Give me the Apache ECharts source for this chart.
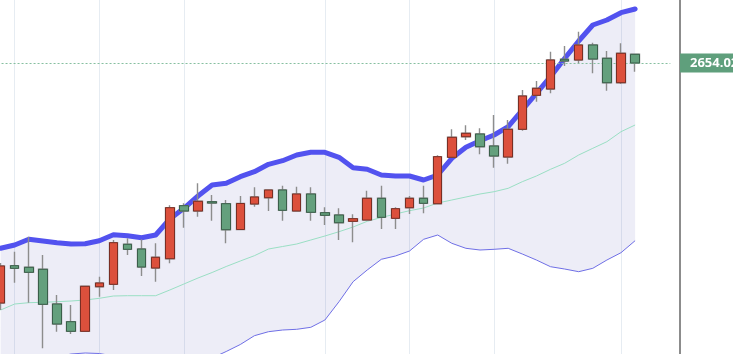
<!DOCTYPE html>
<html>
<head>
<meta charset="utf-8">
<script src="https://cdn.jsdelivr.net/npm/echarts@6/dist/echarts.min.js"></script>
<style>html,body{margin:0;padding:0;background:#fff;}#c{width:733px;height:354px;}</style>
</head>
<body>
<div id="c"></div>
<script>
// ---- data ----
const categories = [];
for (let i = 1; i <= 48; i++) categories.push(String(i));

const openV  = [2414.0,2451.3,2449.7,2447.7,2413.0,2395.3,2385.7,2430.3,2432.7,2472.7,2468.0,2449.0,2458.3,2511.3,2506.0,2515.3,2513.3,2487.5,2513.0,2519.3,2527.0,2506.0,2523.0,2504.3,2502.0,2495.7,2497.0,2518.7,2498.7,2509.3,2518.7,2513.3,2559.7,2580.3,2583.0,2571.0,2560.0,2587.7,2621.7,2628.0,2657.7,2657.0,2672.0,2658.7,2634.3,2662.7];
const closeV = [2451.0,2448.7,2444.7,2412.7,2393.0,2385.7,2430.7,2434.0,2474.3,2467.7,2450.0,2459.7,2509.3,2506.0,2515.7,2514.0,2487.3,2513.5,2520.0,2527.0,2506.7,2523.0,2504.7,2501.7,2494.3,2498.3,2518.7,2499.7,2508.3,2518.7,2513.7,2560.3,2579.7,2583.7,2570.3,2561.0,2587.7,2621.0,2628.7,2657.0,2656.0,2672.0,2658.0,2634.3,2663.7,2654.02];
const lowV   = [2407.0,2434.3,2414.3,2368.7,2385.3,2383.0,2385.5,2420.3,2427.0,2462.0,2441.0,2435.3,2453.7,2489.3,2500.3,2496.3,2473.7,2487.0,2510.3,2506.0,2496.3,2506.0,2496.3,2492.0,2477.0,2474.7,2496.5,2488.0,2488.0,2503.0,2503.7,2513.0,2559.5,2577.0,2562.7,2549.3,2553.3,2586.3,2615.3,2623.7,2651.0,2653.7,2643.7,2626.3,2633.0,2645.3];
const highV  = [2454.0,2465.3,2480.3,2462.0,2422.0,2412.0,2431.0,2440.3,2477.0,2478.7,2477.7,2473.7,2511.7,2513.7,2533.7,2522.0,2517.0,2521.0,2529.7,2527.7,2531.3,2530.3,2529.7,2509.7,2508.7,2502.7,2526.3,2531.3,2509.7,2521.0,2531.3,2561.7,2587.7,2591.7,2588.7,2602.0,2597.0,2627.0,2636.0,2665.3,2671.0,2685.3,2674.3,2666.0,2673.7,2662.7];

const upperBand  = [2468.7,2472.0,2477.7,2476.0,2474.3,2473.0,2473.3,2476.3,2482.3,2481.3,2479.3,2482.0,2498.0,2508.7,2521.0,2532.0,2533.7,2540.3,2545.3,2552.7,2556.3,2562.0,2564.7,2564.7,2559.7,2549.3,2547.7,2542.0,2541.0,2541.0,2537.0,2542.0,2558.7,2569.7,2576.3,2582.0,2590.3,2607.0,2623.7,2640.3,2658.5,2676.0,2692.0,2697.0,2704.3,2708.0];
const middleBand = [2407.0,2413.0,2414.3,2414.7,2415.3,2416.0,2417.0,2418.7,2421.0,2421.3,2421.3,2421.3,2427.0,2433.0,2439.0,2444.5,2450.5,2456.0,2461.3,2468.0,2470.5,2473.0,2477.0,2481.0,2485.3,2490.0,2495.7,2499.5,2503.0,2506.3,2509.0,2514.0,2517.0,2520.0,2523.0,2525.3,2528.7,2535.3,2541.0,2547.7,2553.7,2562.0,2568.7,2575.3,2585.3,2592.0];
const lowerBand  = [2345.0,2352.0,2352.0,2355.0,2360.0,2363.0,2364.0,2363.5,2361.0,2361.0,2362.0,2360.0,2356.0,2357.0,2357.0,2359.0,2365.5,2372.5,2381.3,2385.3,2387.0,2387.7,2389.7,2397.0,2415.3,2435.3,2447.0,2457.7,2461.0,2466.0,2477.7,2482.0,2473.7,2468.7,2467.0,2467.7,2468.7,2463.0,2457.0,2450.3,2448.0,2445.3,2448.7,2457.0,2464.3,2476.3];

const gridLineCats = ['2','8','14','24','30','36','45'];
const lastPrice = closeV[closeV.length - 1];

// ---- build ----
const candleData = openV.map((o, i) => [o, closeV[i], lowV[i], highV[i]]);
const bodyData = openV.map((o, i) => [o, closeV[i], Math.min(o, closeV[i]), Math.max(o, closeV[i])]);
const bandDiff = upperBand.map((u, i) => +(u - lowerBand[i]).toFixed(2));

const chart = echarts.init(document.getElementById('c'), null, {renderer: 'canvas'});
chart.setOption({
  animation: false,
  backgroundColor: '#ffffff',
  grid: {left: -6.45, top: -3, width: 676.8, height: 420, containLabel: false, outerBoundsMode: 'none'},
  xAxis: {
    type: 'category', data: categories, boundaryGap: true,
    axisLine: {show: false}, axisTick: {show: false}, axisLabel: {show: false}, splitLine: {show: false}
  },
  yAxis: {
    type: 'value', min: 2300, max: 2720, position: 'right', offset: 9.65,
    axisLine: {show: true, lineStyle: {color: '#8c8c8c', width: 2}},
    axisTick: {show: false}, axisLabel: {show: false}, splitLine: {show: false}
  },
  series: [
    {
      name: 'lower', type: 'line', data: lowerBand, stack: 'band', z: 2,
      symbol: 'none', lineStyle: {color: '#6f6fe6', width: 1},
      markLine: {
        silent: true, symbol: ['none', 'none'], z: 1,
        label: {show: false},
        lineStyle: {color: '#e6ecf2', type: 'solid', width: 1},
        data: gridLineCats.map(c => ({xAxis: c}))
      }
    },
    {
      name: 'upper', type: 'line', data: bandDiff, stack: 'band', z: 2,
      symbol: 'none',
      lineStyle: {color: '#5252ef', width: 5, join: 'round', cap: 'round'},
      areaStyle: {color: 'rgba(60,60,170,0.13)'}
    },
    {
      name: 'middle', type: 'line', data: middleBand, z: 3,
      symbol: 'none', lineStyle: {color: '#9adfc4', width: 1}
    },
    {
      name: 'wicks', type: 'candlestick', data: candleData, z: 4, barWidth: 9,
      itemStyle: {color: '#dc503c', color0: '#64a07d', borderColor: '#8d8d8d', borderColor0: '#8d8d8d', borderWidth: 1.4},
      markLine: {
        silent: true, symbol: ['none', 'none'],
        lineStyle: {color: '#86bfa0', type: [2, 2], width: 1, opacity: 1},
        emphasis: {disabled: true},
        label: {
          show: true, position: 'end', distance: 9.65,
          formatter: p => Number(p.value).toFixed(2),
          backgroundColor: '#5f9f7c', color: '#ffffff',
          fontFamily: 'Open Sans', fontSize: 13, fontWeight: 'bold',
          padding: [2, 8, 2, 10], lineHeight: 15
        },
        data: [{yAxis: lastPrice}]
      }
    },
    {
      name: 'bodies', type: 'candlestick', data: bodyData, z: 5, barWidth: 9,
      itemStyle: {color: '#dc503c', color0: '#64a07d', borderColor: '#7a2e24', borderColor0: '#3a5f4a', borderWidth: 1}
    }
  ]
});
</script>
</body>
</html>
